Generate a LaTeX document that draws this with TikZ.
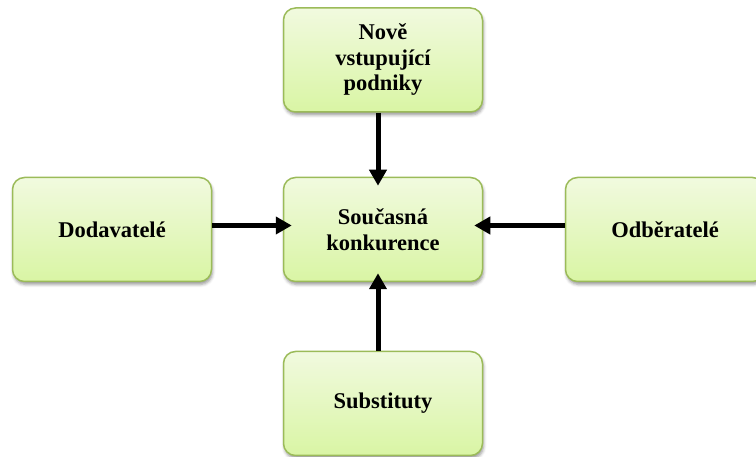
\documentclass[tikz,border=0pt]{standalone}
\usepackage{fontspec}
\setmainfont{Liberation Serif}
\usetikzlibrary{arrows.meta,shadows.blur}

\definecolor{boxtop}{HTML}{F1FADF}
\definecolor{boxbottom}{HTML}{D9F5A4}
\definecolor{boxline}{HTML}{9BBB59}

\begin{document}
\begin{tikzpicture}[x=1pt, y=1pt,
  forcebox/.style={rectangle, rounded corners=12pt, draw=boxline, line width=1.5pt,
    top color=boxtop, bottom color=boxbottom,
    blur shadow={shadow xshift=1pt, shadow yshift=-3pt, shadow blur radius=3pt, shadow opacity=40},
    minimum width=199pt, minimum height=104pt, align=center,
    font=\fontsize{22.5}{25.5}\selectfont\bfseries},
  forcearrow/.style={line width=5pt, -{Triangle[length=16pt,width=17pt]}, shorten >=-9pt}]

\useasboundingbox (0,0) rectangle (756,457);

% Forces around the centre
\node[forcebox] (soucasna) at (383,227.5) {Současná\\konkurence};
\node[forcebox] (nove) at (383,397) {Nově\\vstupující\\podniky};
\node[forcebox] (dodavatele) at (112,227.5) {Dodavatelé};
\node[forcebox] (odberatele) at (665,227.5) {Odběratelé};
\node[forcebox] (substituty) at (383,53.5) {Substituty};

% Arrows into the centre
\draw[forcearrow] ([xshift=-5pt]nove.south) -- ([xshift=-5pt]soucasna.north);
\draw[forcearrow] ([yshift=4pt]dodavatele.east) -- ([yshift=4pt]soucasna.west);
\draw[forcearrow] ([yshift=4pt]odberatele.west) -- ([yshift=4pt]soucasna.east);
\draw[forcearrow] ([xshift=-5pt]substituty.north) -- ([xshift=-5pt]soucasna.south);

\end{tikzpicture}
\end{document}
